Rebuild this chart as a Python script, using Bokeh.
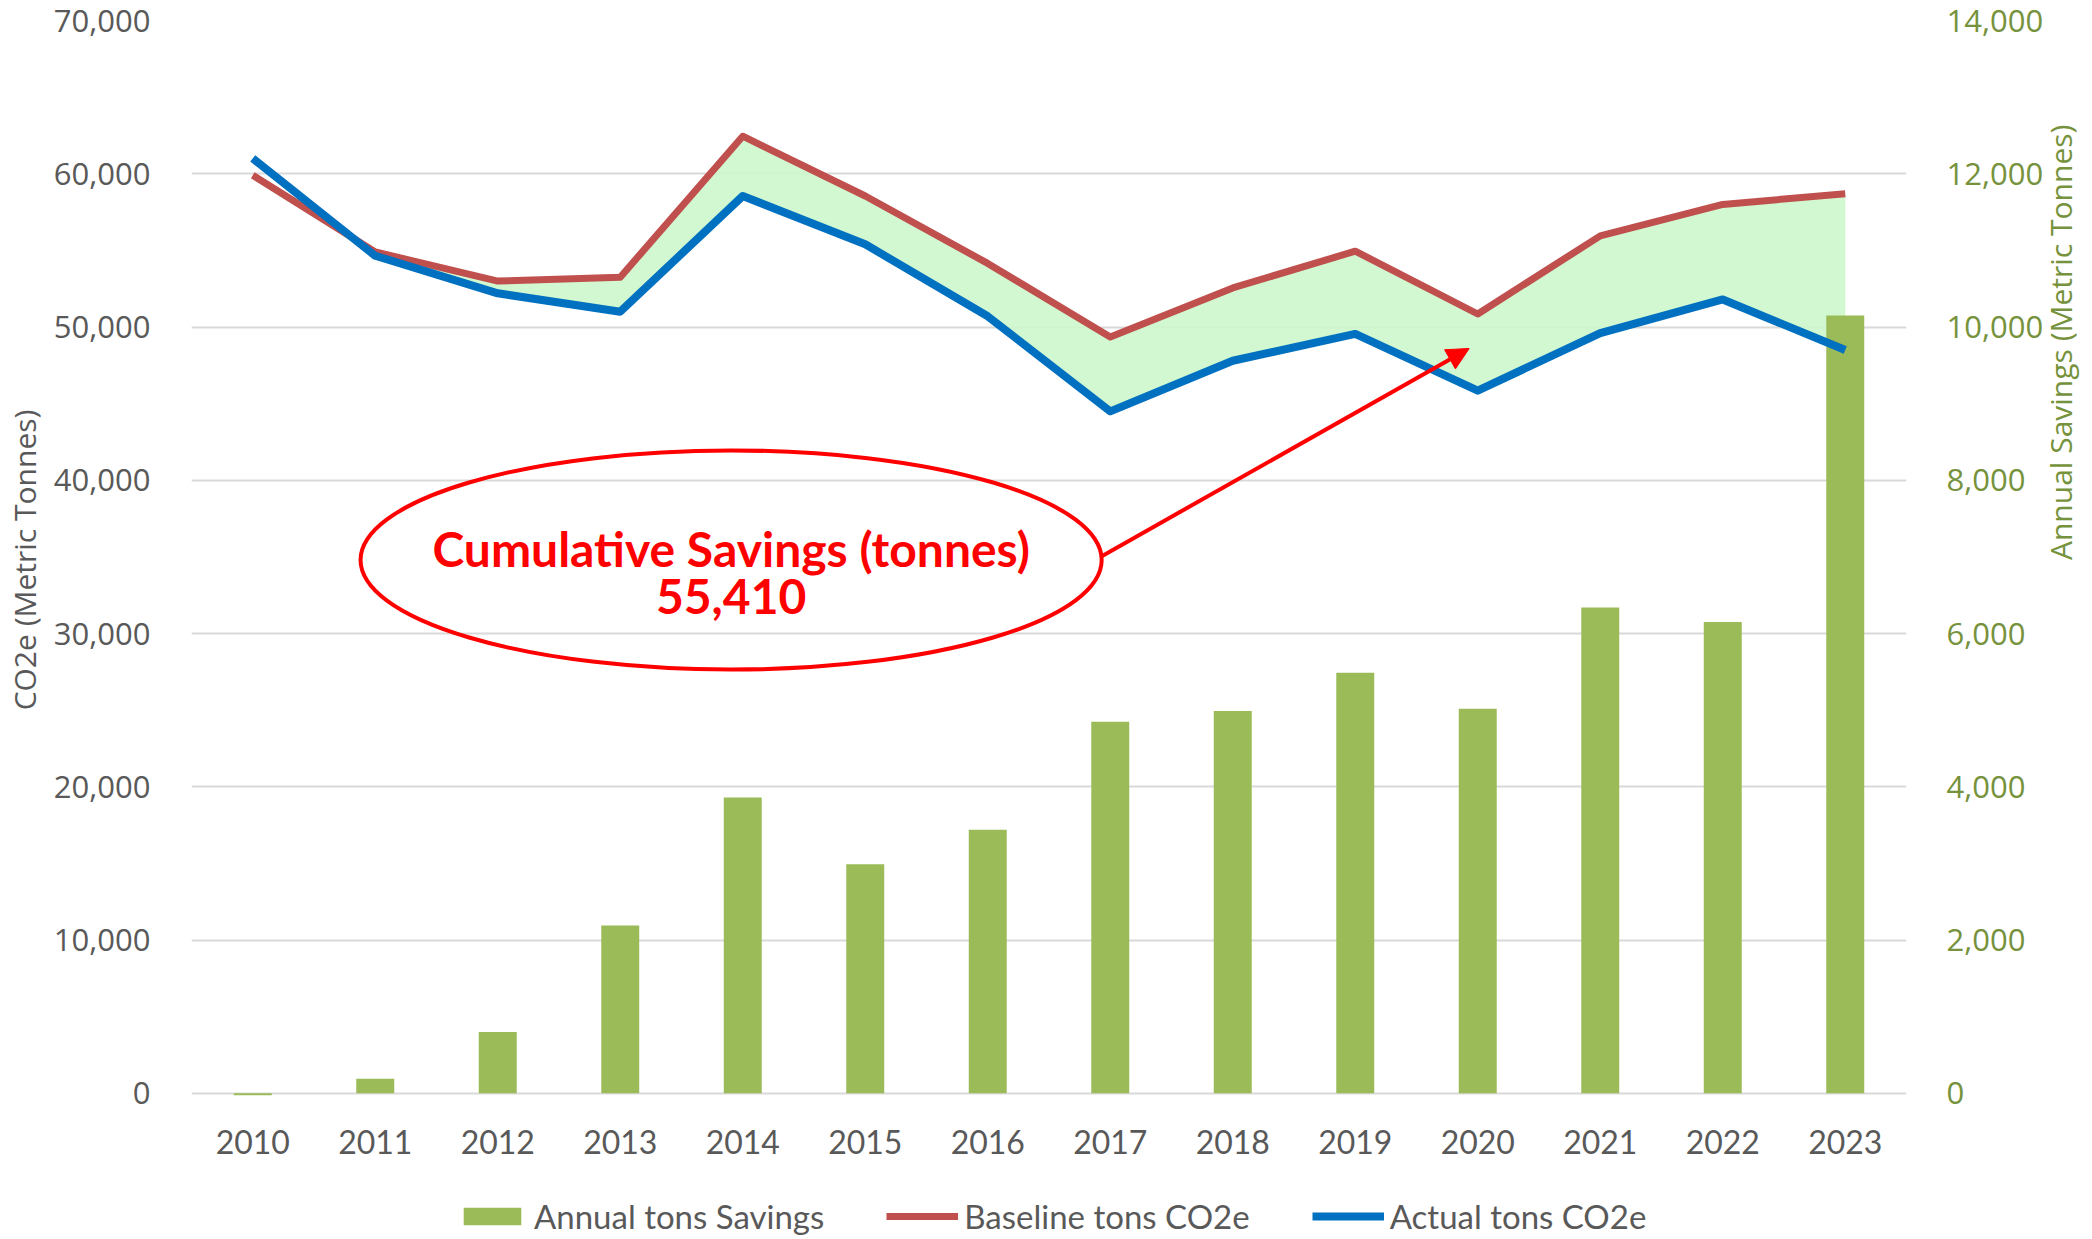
import math
from bokeh.plotting import figure
from bokeh.layouts import column
from bokeh.models import (Range1d, LinearAxis, FixedTicker, NumeralTickFormatter, Legend,
                          LegendItem, Label, Arrow, NormalHead, ColumnDataSource)
from bokeh.embed import file_html
from bokeh.resources import INLINE

# ---------------- data ----------------
years = ["2010", "2011", "2012", "2013", "2014", "2015", "2016",
         "2017", "2018", "2019", "2020", "2021", "2022", "2023"]
baseline = [59900, 54900, 53000, 53250, 62450, 58550, 54150,
            49350, 52550, 54950, 50850, 55950, 58000, 58700]
actual = [61000, 54650, 52200, 51000, 58550, 55400, 50700,
          44500, 47800, 49550, 45850, 49600, 51800, 48500]
savings = [-25, 190, 800, 2190, 3860, 2990, 3440,
           4850, 4990, 5490, 5020, 6340, 6150, 10150]
left_ticks = [0, 10000, 20000, 30000, 40000, 50000, 60000, 70000]
right_ticks = [0, 2000, 4000, 6000, 8000, 10000, 12000, 14000]
series_names = ["Annual tons Savings", "Baseline tons CO2e", "Actual tons CO2e"]
cumulative_label = "Cumulative Savings (tonnes)"
cumulative_value = "55,410"

idx = list(range(len(years)))
upper = [max(b, a) for b, a in zip(baseline, actual)]
src = ColumnDataSource(dict(x=idx, base=baseline, act=actual, up=upper, sav=savings))

GRAY = "#595959"
OLIVE = "#76923c"
GREEN = "#9bbb59"
RED = "#c0504d"
BLUE = "#0070c0"
FONT = "Lato"
YFONT = "Open Sans"

p = figure(frame_width=1715, frame_height=1079, output_backend="svg", toolbar_location=None,
           x_range=Range1d(-0.5, len(years) - 0.5), y_range=Range1d(-400, 70000),
           min_border_left=184, min_border_right=170, min_border_top=20,
           min_border_bottom=70)
p.outline_line_color = None
p.background_fill_color = "white"
p.border_fill_color = "white"
p.extra_y_ranges = {"right": Range1d(-80, 14000)}

# fill between baseline and actual
p.varea(x="x", y1="act", y2="up", source=src, fill_color="#ccf7cc", fill_alpha=0.9)

# bars (right axis)
p.vbar(x="x", top="sav", bottom=0, width=0.31, source=src, y_range_name="right",
       fill_color=GREEN, line_color=None)

# lines
p.line(x="x", y="base", source=src, line_color=RED, line_width=7, line_join="round")
p.line(x="x", y="act", source=src, line_color=BLUE, line_width=8, line_join="round")

# axes
p.xaxis.ticker = FixedTicker(ticks=idx)
p.xaxis.major_label_overrides = {i: y for i, y in enumerate(years)}
p.xaxis.axis_line_color = None
p.xaxis.major_tick_line_color = None
p.xaxis.minor_tick_line_color = None
p.xaxis.major_label_text_font = FONT
p.xaxis.major_label_text_font_size = "32px"
p.xaxis.major_label_text_color = GRAY
p.xaxis.major_label_standoff = 24

p.yaxis.ticker = FixedTicker(ticks=left_ticks)
p.yaxis.formatter = NumeralTickFormatter(format="0,0")
p.yaxis.axis_line_color = None
p.yaxis.major_tick_line_color = None
p.yaxis.minor_tick_line_color = None
p.yaxis.major_label_text_font = YFONT
p.yaxis.major_label_text_font_size = "31px"
p.yaxis.major_label_text_color = GRAY
p.yaxis.major_label_standoff = 35
p.yaxis.axis_label = "CO2e (Metric Tonnes)"
p.yaxis.axis_label_text_font = YFONT
p.yaxis.axis_label_text_font_size = "30px"
p.yaxis.axis_label_text_font_style = "normal"
p.yaxis.axis_label_text_color = GRAY
p.yaxis.axis_label_standoff = 6

ra = LinearAxis(y_range_name="right", ticker=FixedTicker(ticks=right_ticks),
                formatter=NumeralTickFormatter(format="0,0"))
ra.axis_line_color = None
ra.major_tick_line_color = None
ra.minor_tick_line_color = None
ra.major_label_text_font = YFONT
ra.major_label_text_font_size = "31px"
ra.major_label_text_color = OLIVE
ra.major_label_standoff = 34
ra.axis_label = "Annual Savings (Metric Tonnes)"
ra.axis_label_text_font = YFONT
ra.axis_label_text_font_size = "30px"
ra.axis_label_text_font_style = "normal"
ra.axis_label_text_color = OLIVE
ra.axis_label_standoff = 14
if "axis_label_orientation" in ra.properties():
    ra.axis_label_orientation = math.pi / 2
p.add_layout(ra, "right")

p.xgrid.grid_line_color = None
p.ygrid.ticker = FixedTicker(ticks=left_ticks)
p.ygrid.grid_line_color = "#d9d9d9"
p.ygrid.grid_line_width = 2

# annotation: ellipse, text, arrow
p.ellipse(x=[3.905], y=[34800], width=[6.05], height=[14300], fill_color=None,
          line_color="#ff0000", line_width=4)
p.add_layout(Label(x=3.905, y=35570, text=cumulative_label, text_align="center",
                   text_baseline="middle", text_font=FONT, text_font_style="bold",
                   text_font_size="48px", text_color="#ff0000"))
p.add_layout(Label(x=3.905, y=32450, text=cumulative_value, text_align="center",
                   text_baseline="middle", text_font=FONT, text_font_style="bold",
                   text_font_size="48px", text_color="#ff0000"))
p.add_layout(Arrow(end=NormalHead(size=22, fill_color="#ff0000", line_color="#ff0000"),
                   x_start=6.92, y_start=35000, x_end=9.93, y_end=48600,
                   line_color="#ff0000", line_width=4))

# ---------------- legend strip below the chart ----------------
lg = figure(width=2076, height=70, output_backend="svg", toolbar_location=None,
            x_range=Range1d(0, 1), y_range=Range1d(0, 1),
            min_border_left=0, min_border_right=0, min_border_top=0, min_border_bottom=0)
lg.outline_line_color = None
lg.axis.visible = False
lg.grid.visible = False
# one off-screen point per series so that the legend has glyphs to draw
dummy = ColumnDataSource(dict(x=[-5], y=[-5], top=[-5]))
r_bar = lg.vbar(x="x", top="top", width=0.1, source=dummy, fill_color=GREEN, line_color=None)
r_base = lg.line(x="x", y="y", source=dummy, line_color=RED, line_width=7)
r_act = lg.line(x="x", y="y", source=dummy, line_color=BLUE, line_width=8)

legend = Legend(items=[LegendItem(label=series_names[0], renderers=[r_bar]),
                       LegendItem(label=series_names[1], renderers=[r_base]),
                       LegendItem(label=series_names[2], renderers=[r_act])],
                orientation="horizontal", location=(265, 3))
legend.label_text_font = FONT
legend.label_text_font_size = "33px"
legend.label_text_color = GRAY
legend.glyph_width = 72
legend.glyph_height = 22
legend.label_standoff = 6
legend.spacing = 62
legend.padding = 0
legend.margin = 0
legend.border_line_color = None
legend.background_fill_alpha = 0
lg.add_layout(legend, "center")

open("out.html", "w").write(file_html(column(p, lg), INLINE))
